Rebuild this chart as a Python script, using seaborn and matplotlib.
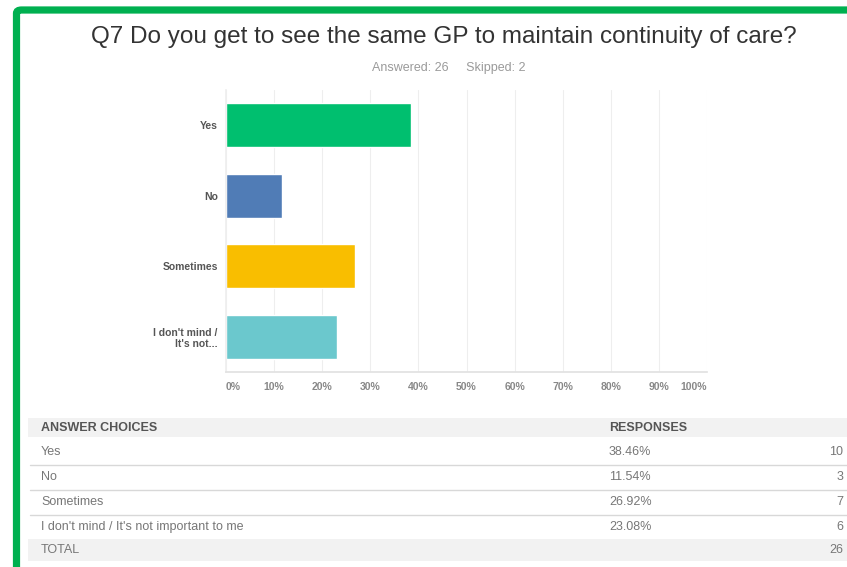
import matplotlib
matplotlib.use("Agg")
import matplotlib.pyplot as plt
from matplotlib.patches import FancyBboxPatch, Rectangle
import seaborn as sns
import pandas as pd

# Survey question and response summary
question = "Q7 Do you get to see the same GP to maintain continuity of care?"
answered = 26
skipped = 2
chart_labels = ["Yes", "No", "Sometimes", "I don't mind /\nIt's not..."]
table_labels = ["Yes", "No", "Sometimes", "I don't mind / It's not important to me"]
percentages = [38.46, 11.54, 26.92, 23.08]
counts = [10, 3, 7, 6]
bar_colors = ["#00BF6F", "#507CB6", "#F9BE00", "#6BC8CD"]
x_ticks = [0, 10, 20, 30, 40, 50, 60, 70, 80, 90, 100]

W, H = 847, 567
sns.set_theme(style="white")
plt.rcParams["font.family"] = ["Liberation Sans", "DejaVu Sans"]

fig = plt.figure(figsize=(W / 100, H / 100), dpi=100)
fig.patch.set_facecolor("white")


def fx(px):
    return px / W


def fy(py):
    return 1 - py / H


# green frame around the page
frame = FancyBboxPatch((fx(16.5), fy(600)), fx(950), 600 / H - 10 / H,
                       boxstyle="round,pad=0,rounding_size=0.006",
                       transform=fig.transFigure, fill=False,
                       edgecolor="#00B050", linewidth=5.2, clip_on=False)
fig.patches.append(frame)

# title and subtitle
fig.text(fx(444), fy(37), question, ha="center", va="center",
         fontsize=17.5, color="#333333")
fig.text(fx(449), fy(68), f"Answered: {answered}     Skipped: {skipped}",
         ha="center", va="center", fontsize=9, color="#9a9a9a")

# bar chart
ax = fig.add_axes([fx(226), fy(372), fx(707) - fx(226), (372 - 90) / H])
df = pd.DataFrame({"choice": chart_labels, "pct": percentages})
sns.barplot(data=df, x="pct", y="choice", hue="choice", palette=bar_colors,
            order=chart_labels, hue_order=chart_labels, width=0.62,
            legend=False, ax=ax, saturation=1)
ax.set_xlim(0, 100)
ax.set_xticks(x_ticks)
ax.set_xticklabels([f"{t}%" for t in x_ticks], fontsize=7.5, color="#888888",
                   fontweight="bold")
tl = ax.get_xticklabels()
tl[0].set_ha("left")
tl[-1].set_ha("right")
ax.tick_params(axis="x", length=0, pad=7)
ax.tick_params(axis="y", length=0, pad=6)
for lab in ax.get_yticklabels():
    lab.set_fontsize(7.5)
    lab.set_fontweight("bold")
    lab.set_color("#555555")
ax.set_xlabel("")
ax.set_ylabel("")
ax.grid(axis="x", color="#eeeeee", linewidth=0.8)
ax.set_axisbelow(True)
for side in ["top", "right"]:
    ax.spines[side].set_visible(False)
ax.spines["left"].set_color("#eeeeee")
ax.spines["bottom"].set_color("#e2e2e2")

# response table
TS = 9


def band(y0, y1, color):
    fig.patches.append(Rectangle((fx(28), fy(y1)), fx(W - 28), (y1 - y0) / H,
                                 transform=fig.transFigure, facecolor=color,
                                 edgecolor="none"))


def rule(y):
    fig.add_artist(plt.Line2D([fx(30), fx(W)], [fy(y), fy(y)],
                              transform=fig.transFigure, color="#d8d8d8",
                              linewidth=1.0))


band(418, 437, "#f2f2f2")
band(539, 561, "#f2f2f2")
fig.text(fx(41), fy(428), "ANSWER CHOICES", fontsize=TS, fontweight="bold",
         color="#555555", va="center")
fig.text(fx(609), fy(428), "RESPONSES", fontsize=TS, fontweight="bold",
         color="#555555", va="center")
row_y = [452, 477, 502, 527]
for i, (lab, p, c) in enumerate(zip(table_labels, percentages, counts)):
    y = row_y[i]
    fig.text(fx(41), fy(y), lab, fontsize=TS, color="#777777", va="center")
    fig.text(fx(609), fy(y), f"{p:.2f}%", fontsize=TS, color="#777777",
             va="center")
    fig.text(fx(843), fy(y), str(c), fontsize=TS, color="#777777",
             va="center", ha="right")
    if i < 3:
        rule(y + 12.5)
fig.text(fx(41), fy(550), "TOTAL", fontsize=TS, color="#777777", va="center")
fig.text(fx(843), fy(550), str(sum(counts)), fontsize=TS, color="#777777",
         va="center", ha="right")

fig.savefig("out.png", dpi=100, facecolor="white")
